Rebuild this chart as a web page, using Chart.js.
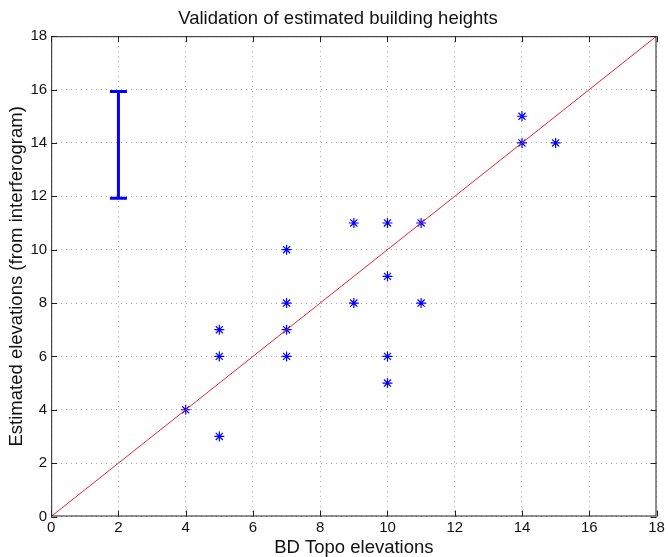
<!DOCTYPE html>
<html>
<head>
<meta charset="utf-8">
<script src="https://cdn.jsdelivr.net/npm/chart.js@4"></script>
<style>
  html, body { margin: 0; padding: 0; background: #fff; }
  #wrap { width: 668px; height: 557px; }
</style>
</head>
<body>
<div id="wrap"><canvas id="ctx1"></canvas></div>
<script>
// BD Topo vs estimated heights
const bdTopo    = [4, 5, 5, 5, 7, 7, 7, 7, 9, 9, 10, 10, 10, 10, 11, 11, 14, 14, 15];
const estimated = [4, 3, 6, 7, 6, 7, 8, 10, 8, 11, 5, 6, 9, 11, 8, 11, 14, 15, 14];
// y = x reference line
const refX = [0, 18];
const refY = [0, 18];
// error bar
const errX = [2, 2];
const errY = [11.93, 15.93];

const toPts = (xs, ys) => xs.map((x, i) => ({ x, y: ys[i] }));

// matlab-ish box + inward ticks
const boxPlugin = {
    id: 'box',
    afterDatasetsDraw(chart) {
        const { ctx, chartArea: a, scales } = chart;
        ctx.save();
        ctx.strokeStyle = '#222';
        ctx.lineWidth = 1;
        ctx.strokeRect(a.left + 0.5, a.top + 0.5, a.right - a.left - 1, a.bottom - a.top - 1);
        ctx.beginPath();
        const len = 6;
        scales.x.ticks.forEach(t => {
            const px = Math.round(scales.x.getPixelForValue(t.value)) + 0.5;
            ctx.moveTo(px, a.bottom); ctx.lineTo(px, a.bottom - len);
            ctx.moveTo(px, a.top); ctx.lineTo(px, a.top + len);
        });
        scales.y.ticks.forEach(t => {
            const py = Math.round(scales.y.getPixelForValue(t.value)) + 0.5;
            ctx.moveTo(a.left, py); ctx.lineTo(a.left + len, py);
            ctx.moveTo(a.right, py); ctx.lineTo(a.right - len, py);
        });
        ctx.stroke();
        ctx.restore();
    }
};

const font = 'Liberation Sans, Arial, sans-serif';

new Chart(document.getElementById('ctx1'), {
    type: 'scatter',
    data: {
        datasets: [
            {
                label: 'fit',
                data: toPts(refX, refY),
                showLine: true,
                borderColor: '#e8262b',
                borderWidth: 1,
                pointRadius: 0
            },
            {
                label: 'heights',
                data: toPts(bdTopo, estimated),
                pointStyle: 'star',
                pointRadius: 5,
                borderColor: '#0000ff',
                backgroundColor: '#0000ff',
                borderWidth: 1.2
            },
            {
                label: 'error',
                data: toPts(errX, errY),
                showLine: true,
                borderColor: '#0000ff',
                borderWidth: 3,
                pointStyle: 'line',
                pointRadius: 8.5,
                pointBorderWidth: 3,
                pointBorderColor: '#0000ff'
            }
        ]
    },
    options: {
        responsive: true,
        maintainAspectRatio: false,
        animation: false,
        layout: { padding: { top: 0, right: 0, left: 8, bottom: 0 } },
        plugins: {
            legend: { display: false },
            tooltip: { enabled: false },
            title: {
                display: true,
                text: 'Validation of estimated building heights',
                color: '#111',
                font: { family: font, size: 18.5, weight: 'normal', lineHeight: 1.2 },
                padding: { top: 8, bottom: 6 }
            }
        },
        scales: {
            x: {
                type: 'linear',
                min: 0,
                max: 18,
                ticks: { stepSize: 2, color: '#111', padding: 2, font: { family: font, size: 15 } },
                grid: { color: '#a8a8a8', drawTicks: false },
                border: { display: false, dash: [1, 4] },
                title: {
                    display: true,
                    text: 'BD Topo elevations',
                    color: '#111',
                    font: { family: font, size: 18.5, lineHeight: 1.0 },
                    padding: { top: 0, bottom: 0 }
                }
            },
            y: {
                type: 'linear',
                min: 0,
                max: 18,
                ticks: { stepSize: 2, color: '#111', padding: 4, font: { family: font, size: 15 } },
                grid: { color: '#a8a8a8', drawTicks: false },
                border: { display: false, dash: [1, 4] },
                title: {
                    display: true,
                    text: 'Estimated elevations (from interferogram)',
                    color: '#111',
                    font: { family: font, size: 18.5, lineHeight: 1.0 },
                    padding: { top: 0, bottom: 0 }
                }
            }
        }
    },
    plugins: [boxPlugin]
});
</script>
</body>
</html>
